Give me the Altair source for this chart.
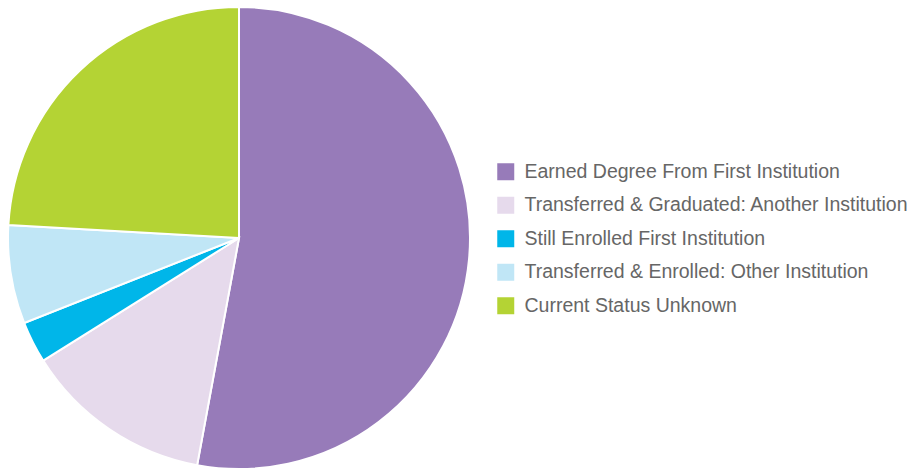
import altair as alt
import pandas as pd

categories = [
    "Earned Degree From First Institution",
    "Transferred & Graduated: Another Institution",
    "Still Enrolled First Institution",
    "Transferred & Enrolled: Other Institution",
    "Current Status Unknown",
]
values = [52.9, 13.2, 2.9, 6.9, 24.1]
colors = ["#977BB9", "#E6DAEC", "#00B6E9", "#C0E6F6", "#B4D334"]

df = pd.DataFrame({"category": categories, "value": values, "order": list(range(len(categories)))})

chart = (
    alt.Chart(df)
    .mark_arc(radius=231, stroke="white", strokeWidth=2)
    .encode(
        theta=alt.Theta("value:Q", stack=True),
        order=alt.Order("order:Q"),
        x=alt.value(231),
        y=alt.value(230),
        color=alt.Color(
            "category:N",
            scale=alt.Scale(domain=categories, range=colors),
            sort=categories,
            legend=alt.Legend(
                title=None,
                orient="none",
                legendX=488,
                legendY=154,
                symbolType="square",
                symbolSize=289,
                symbolStrokeWidth=0,
                labelFontSize=19.5,
                labelFont="Liberation Sans",
                labelColor="#666666",
                labelOffset=9,
                rowPadding=12.5,
                padding=0,
                labelLimit=500,
            ),
        ),
    )
    .properties(width=904, height=462, autosize=alt.AutoSizeParams(type="none"), padding=0)
    .configure_view(stroke=None)
)

chart.save("out.html", embed_options={"renderer": "svg", "actions": False})
